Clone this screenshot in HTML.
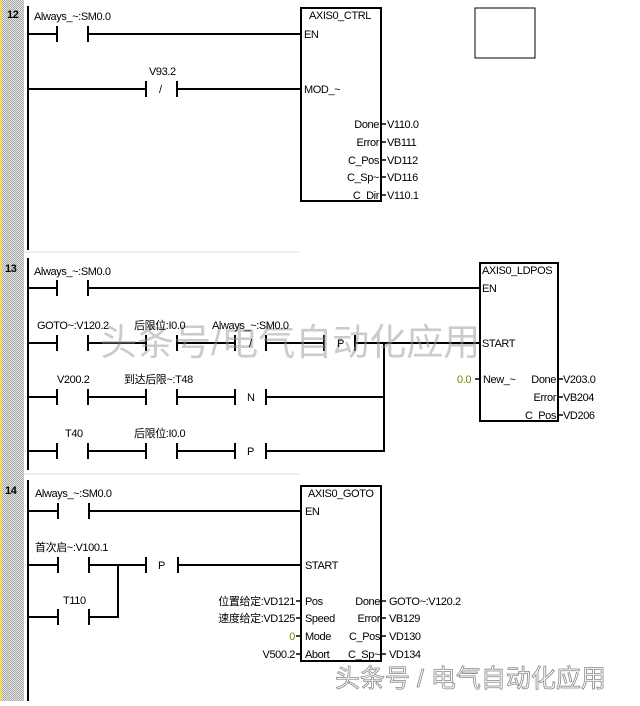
<!DOCTYPE html>
<html><head><meta charset="utf-8"><style>
html,body{margin:0;padding:0;background:#fff;}
svg text{font-family:"Liberation Sans","Noto Sans CJK SC",sans-serif;font-size:11px;fill:#000;letter-spacing:-0.4px;}
</style></head><body>
<svg width="640" height="701" viewBox="0 0 640 701" xmlns="http://www.w3.org/2000/svg">
<defs><pattern id="h" width="2" height="2" patternUnits="userSpaceOnUse"><rect width="2" height="2" fill="#e4e4e4"/><rect width="1" height="1" fill="#a8a8a8"/><rect x="1" y="1" width="1" height="1" fill="#a8a8a8"/></pattern></defs>
<rect x="0" y="0" width="24" height="701" fill="url(#h)"/>
<rect x="0" y="0" width="2" height="701" fill="#f0d860"/>
<line x1="24" y1="252" x2="300" y2="252" stroke="#ddd"/>
<line x1="24" y1="474" x2="300" y2="474" stroke="#ddd"/>
<g stroke="#000" stroke-width="2" fill="none">
<line x1="28" y1="6" x2="28" y2="250"/>
<line x1="28" y1="258" x2="28" y2="470"/>
<line x1="28" y1="480" x2="28" y2="701"/>
<!-- N12 -->
<rect x="301" y="8" width="80" height="193"/>
<path d="M28 34H57M57 26V42M88 26V42M88 34H301"/>
<path d="M28 89H146M146 81V97M177 81V97M177 89H301"/>
<path d="M381 124H386M381 142H386M381 160H386M381 177H386M381 195H386" stroke-width="1.5"/>
<rect x="475" y="8" width="60" height="50" stroke-width="1"/>
<!-- N13 -->
<rect x="480" y="263" width="78" height="158"/>
<path d="M28 288H57M57 280V296M88 280V296M88 288H480"/>
<path d="M28 343H57M57 335V351M88 335V351M88 343H146M146 335V351M177 335V351M177 343H235M235 335V351M266 335V351M266 343H324M324 335V351M355 335V351M355 343H480"/>
<path d="M28 397H57M57 389V405M88 389V405M88 397H146M146 389V405M177 389V405M177 397H235M235 389V405M266 389V405M266 397H384"/>
<path d="M28 451H57M57 443V459M88 443V459M88 451H146M146 443V459M177 443V459M177 451H235M235 443V459M266 443V459M266 451H384V343"/>
<path d="M475 379H480M558 379H563M558 397H563M558 415H563" stroke-width="1.5"/>
<!-- N14 -->
<rect x="301" y="486" width="80" height="175"/>
<path d="M28 511H58M58 503V519M89 503V519M89 511H301"/>
<path d="M28 565H58M58 557V573M89 557V573M89 565H146M146 557V573M178 557V573M178 565H301"/>
<path d="M28 617H58M58 609V625M89 609V625M89 617H118V565"/>
<path d="M296 601H301M296 618H301M296 636H301M296 654H301M381 601H386M381 618H386M381 636H386M381 654H386" stroke-width="1.5"/>
</g>
<text x="7" y="18" style="font-weight:bold">12</text><text x="5" y="272" style="font-weight:bold">13</text><text x="5" y="494" style="font-weight:bold">14</text>
<!-- N12 labels -->
<text x="34" y="20">Always_~:SM0.0</text>
<text x="149" y="75">V93.2</text>
<text x="159" y="93">/</text>
<text x="309" y="19">AXIS0_CTRL</text>
<text x="304" y="38">EN</text>
<text x="304" y="93">MOD_~</text>
<g text-anchor="end"><text x="379" y="128">Done</text><text x="379" y="146">Error</text><text x="379" y="164">C_Pos</text><text x="379" y="181">C_Sp~</text><text x="379" y="199">C_Dir</text></g>
<text x="387" y="128">V110.0</text><text x="387" y="146">VB111</text><text x="387" y="164">VD112</text><text x="387" y="181">VD116</text><text x="387" y="199">V110.1</text>
<!-- N13 labels -->
<text x="100" y="355" style="font-size:37px;fill:#999;opacity:0.5;letter-spacing:0">头条号/电气自动化应用</text>
<text x="34" y="275">Always_~:SM0.0</text>
<text x="37" y="329">GOTO~:V120.2</text>
<text x="134" y="329">后限位:I0.0</text>
<text x="212" y="329">Always_~:SM0.0</text>
<text x="249" y="347">/</text>
<text x="337" y="347">P</text>
<text x="57" y="383">V200.2</text>
<text x="124" y="383">到达后限~:T48</text>
<text x="247" y="401">N</text>
<text x="65" y="437">T40</text>
<text x="134" y="437">后限位:I0.0</text>
<text x="247" y="455">P</text>
<text x="482" y="274">AXIS0_LDPOS</text>
<text x="482" y="292">EN</text>
<text x="482" y="347">START</text>
<text x="483" y="383">New_~</text>
<text x="457" y="383" style="fill:#808000">0.0</text>
<g text-anchor="end"><text x="556" y="383">Done</text><text x="556" y="401">Error</text><text x="556" y="419">C_Pos</text></g>
<text x="563" y="383">V203.0</text><text x="563" y="401">VB204</text><text x="563" y="419">VD206</text>
<!-- N14 labels -->
<text x="35" y="497">Always_~:SM0.0</text>
<text x="35" y="551">首次启~:V100.1</text>
<text x="158" y="569">P</text>
<text x="63" y="604">T110</text>
<text x="308" y="497">AXIS0_GOTO</text>
<text x="305" y="515">EN</text>
<text x="305" y="569">START</text>
<g text-anchor="end"><text x="295" y="605">位置给定:VD121</text><text x="295" y="622">速度给定:VD125</text><text x="295" y="640" style="fill:#808000">0</text><text x="295" y="658">V500.2</text></g>
<text x="305" y="605">Pos</text><text x="305" y="622">Speed</text><text x="305" y="640">Mode</text><text x="305" y="658">Abort</text>
<g text-anchor="end"><text x="380" y="605">Done</text><text x="380" y="622">Error</text><text x="380" y="640">C_Pos</text><text x="380" y="658">C_Sp~</text></g>
<text x="389" y="605">GOTO~:V120.2</text><text x="389" y="622">VB129</text><text x="389" y="640">VD130</text><text x="389" y="658">VD134</text>
<text x="335" y="687" style="font-size:25px;fill:#fff;stroke:#888;stroke-width:0.8;letter-spacing:0">头条号 / 电气自动化应用</text>
</svg>
</body></html>
